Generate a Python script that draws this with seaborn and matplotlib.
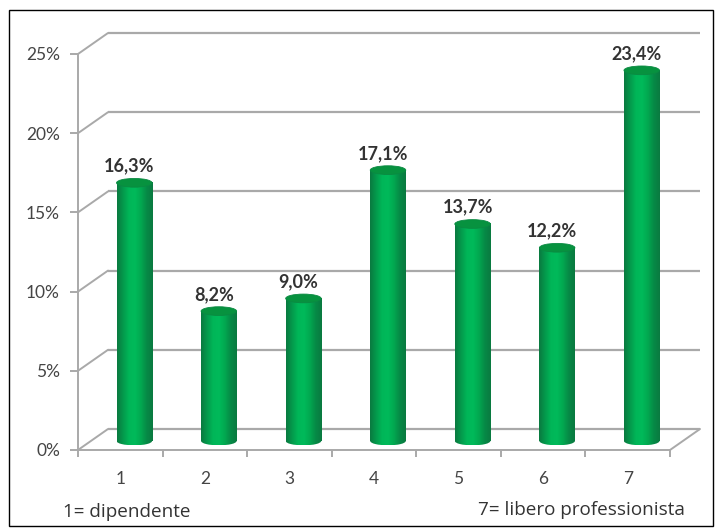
import numpy as np
import matplotlib.pyplot as plt
import matplotlib.colors as mcolors
from matplotlib.patches import Ellipse, Rectangle, ConnectionPatch
import seaborn as sns

categories = ['1', '2', '3', '4', '5', '6', '7']
values = [16.3, 8.2, 9.0, 17.1, 13.7, 12.2, 23.4]
value_labels = ['16,3%', '8,2%', '9,0%', '17,1%', '13,7%', '12,2%', '23,4%']
y_ticks = [0, 5, 10, 15, 20, 25]
y_labels = ['0%', '5%', '10%', '15%', '20%', '25%']

W, H = 720, 532
GRID = '#a9a9a9'
TEXT = '#454545'

sns.set_theme(style='white')
plt.rcParams['font.family'] = ['Lato', 'DejaVu Sans']

fig = plt.figure(figsize=(W / 100, H / 100), dpi=100, facecolor='white')


def plane(dx, dy, z):
    # the fake 3d depth is just three axes slid against each other
    left, right, top, bottom = 78 + dx, 670 + dx, 54 - dy, 450 - dy
    ax = fig.add_axes([left / W, 1 - bottom / H, (right - left) / W, (bottom - top) / H], zorder=z)
    ax.patch.set_alpha(0)
    ax.set_xlim(-0.5, 6.5)
    ax.set_ylim(0, 25)
    return ax


ax_back = plane(30, 21, 1)
ax_front = plane(0, 0, 2)
ax_bars = plane(14, 9, 3)

# back wall
ax_back.hlines(y_ticks, -0.5, 6.5, color=GRID, lw=1.6, clip_on=False)
ax_back.axis('off')

# front axes with the ticks
for side in ['top', 'right']:
    ax_front.spines[side].set_visible(False)
for side in ['left', 'bottom']:
    ax_front.spines[side].set_color(GRID)
    ax_front.spines[side].set_linewidth(1.4)
ax_front.set_yticks(y_ticks, y_labels, fontsize=12.5, color=TEXT)
ax_front.set_xticks(np.arange(-0.5, 7.5, 1), [''] * 8)
ax_front.set_xticks(np.arange(7), categories, minor=True, fontsize=12.5, color=TEXT)
ax_front.tick_params(axis='y', length=6, width=1.4, color=GRID, left=True, pad=7)
ax_front.tick_params(axis='x', which='major', length=5, width=1.4, color=GRID, bottom=True)
ax_front.tick_params(axis='x', which='minor', length=0, pad=15)

# depth lines from front to back
for v in y_ticks:
    fig.add_artist(ConnectionPatch((-0.5, v), (-0.5, v), coordsA=ax_front.transData,
                                   coordsB=ax_back.transData, color=GRID, lw=1.4))
fig.add_artist(ConnectionPatch((6.5, 0), (6.5, 0), coordsA=ax_front.transData,
                               coordsB=ax_back.transData, color=GRID, lw=1.4))

# cylinders
sns.barplot(x=categories, y=values, ax=ax_bars, color='#00a850', width=0.42,
            saturation=1, linewidth=0)
ax_bars.set_xlim(-0.5, 6.5)
ax_bars.set_ylim(0, 25)
ax_bars.axis('off')

cyl = mcolors.LinearSegmentedColormap.from_list(
    'cyl', ['#0a7a40', '#049a4c', '#00b658', '#00ba5a', '#02a850', '#068a46', '#0a7a40'])
shade = np.linspace(0, 1, 64).reshape(1, -1)
cap_h = 0.55
for bar, label in zip(list(ax_bars.patches), value_labels):
    x0, w, h = bar.get_x(), bar.get_width(), bar.get_height()
    cx = x0 + w / 2
    bar.set_visible(False)
    rect = Rectangle((x0, 0), w, h, transform=ax_bars.transData, fc='none', ec='none')
    foot = Ellipse((cx, 0), w, cap_h, transform=ax_bars.transData, fc='none', ec='none')
    for clip, y0, y1 in [(rect, 0, h), (foot, -cap_h / 2, cap_h / 2)]:
        ax_bars.add_patch(clip)
        im = ax_bars.imshow(shade, cmap=cyl, extent=(x0, x0 + w, y0, y1), aspect='auto', zorder=2)
        im.set_clip_path(clip)
        # the foot hangs under y=0, images get cut at the axes box otherwise
        im.set_clip_box(fig.bbox)
    ax_bars.add_patch(Ellipse((cx, h), w, cap_h, fc='#07923f', ec='#0a8a42', lw=0.6, zorder=3))
    ax_bars.annotate(label, (cx, h), xytext=(-3.5, 6), textcoords='offset points', ha='center',
                     va='bottom', fontsize=13, fontweight='bold', color='#333333', zorder=4)
ax_bars.set_xlim(-0.5, 6.5)
ax_bars.set_ylim(0, 25)

# notes under the chart and outer frame
fig.text(63 / W, 1 - 512 / H, '1= dipendente', fontsize=13.6, color='#333333', va='center',
         family='Open Sans')
fig.text(478 / W, 1 - 510 / H, '7= libero professionista', fontsize=13.6, color='#333333',
         va='center', family='Open Sans')
fig.add_artist(Rectangle((8.5 / W, 1 - 525.5 / H), 704 / W, 516 / H, transform=fig.transFigure,
                         fc='none', ec='black', lw=1))

fig.savefig('out.png', dpi=100)
